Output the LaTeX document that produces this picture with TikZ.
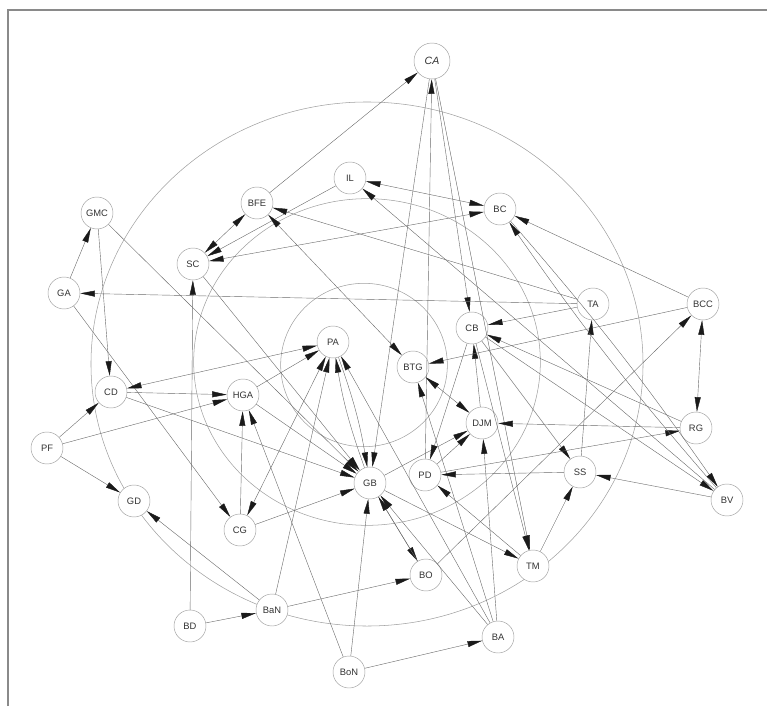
\documentclass[tikz,border=0pt]{standalone}
\usepackage{fontspec}
\setmainfont{Liberation Sans}
\usetikzlibrary{arrows.meta}
\definecolor{mapLine}{HTML}{6A6A6A}
\definecolor{mapRing}{HTML}{A0A0A0}
\definecolor{mapFrame}{HTML}{8A8A8A}
\definecolor{mapTip}{HTML}{1A1A1A}

\begin{document}
\begin{tikzpicture}[
  x=0.03cm, y=-0.03cm,
  font=\fontsize{8}{9}\selectfont,
  concept/.style={draw=mapRing, circle, fill=white, minimum size=0.96cm,
                  inner sep=0pt, text=black!80},
  link/.style={draw=mapLine, line width=0.35pt,
               -{Triangle[length=4.4mm,width=1.8mm,color=mapTip]}},
  twoway/.style={draw=mapLine, line width=0.35pt,
               {Triangle[length=4.4mm,width=1.8mm,color=mapTip]}-{Triangle[length=4.4mm,width=1.8mm,color=mapTip]}},
  ring/.style={draw=mapRing, line width=0.45pt}
]
\useasboundingbox (0,0) rectangle (767,706);
\draw[mapFrame, line width=1.3pt] (8,706) -- (8,10) -- (767,10);

% level rings
\draw[ring] (367,364) ellipse [x radius=8.28cm, y radius=7.86cm];
\draw[ring] (367,362) ellipse [x radius=5.2cm, y radius=4.9cm];
\draw[ring] (364,365) ellipse [x radius=2.5cm, y radius=2.45cm];

\node[concept, minimum size=1.08cm, font=\fontsize{9}{10}\selectfont\itshape] (CA) at (432,61) {CA};
\node[concept] (IL)  at (350,178) {IL};
\node[concept] (BFE) at (257,203) {BFE};
\node[concept] (BC)  at (500,209) {BC};
\node[concept] (GMC) at (97,213)  {GMC};
\node[concept] (SC)  at (193,264) {SC};
\node[concept] (GA)  at (64,293)  {GA};
\node[concept] (TA)  at (593,304) {TA};
\node[concept] (BCC) at (703,304) {BCC};
\node[concept] (CB)  at (472,328) {CB};
\node[concept] (PA)  at (333,342) {PA};
\node[concept] (BTG) at (413,367) {BTG};
\node[concept] (CD)  at (111,392) {CD};
\node[concept] (HGA) at (243,395) {HGA};
\node[concept] (DJM) at (482,423) {DJM};
\node[concept] (RG)  at (696,428) {RG};
\node[concept] (PF)  at (47,448)  {PF};
\node[concept] (PD)  at (425,475) {PD};
\node[concept] (SS)  at (580,472) {SS};
\node[concept] (GB)  at (370,483) {GB};
\node[concept] (GD)  at (134,501) {GD};
\node[concept] (BV)  at (727,500) {BV};
\node[concept] (CG)  at (240,530) {CG};
\node[concept] (TM)  at (533,566) {TM};
\node[concept] (BO)  at (426,575) {BO};
\node[concept] (BaN) at (272,610) {BaN};
\node[concept] (BD)  at (190,626) {BD};
\node[concept] (BA)  at (498,637) {BA};
\node[concept] (BoN) at (349,672) {BoN};

\foreach \a/\b in {BFE/CA, CA/GB, CA/CB, CA/TM, PD/CA, BCC/BC, IL/SC, TA/BFE,
    GA/GMC, GMC/CD, GMC/GB, TA/GA, GA/CG, BD/SC, SC/GB, HGA/PA, BaN/PA,
    BA/PA, CD/HGA, PF/HGA, CG/HGA, BoN/HGA, HGA/GB, PF/CD, CD/GB, PF/GD,
    BaN/GD, CG/GB, BoN/GB, BA/GB, GB/TM, TM/PD, GB/BO, BaN/BO, BO/BCC,
    BA/BTG, BA/DJM, BoN/BA, BD/BaN, GB/DJM, PD/DJM, RG/DJM, DJM/CB,
    BCC/BTG, TA/CB, SS/TA, CB/SS, TM/SS, BV/SS, SS/PD, PD/RG, CB/PD,
    CB/TM, CB/BV, BV/IL, RG/CB, BO/GB}
  \draw[link] (\a) -- (\b);

\foreach \a/\b in {IL/BC, BFE/SC, SC/BC, BFE/BTG, CD/PA, CG/PA, BTG/DJM, BCC/RG}
  \draw[twoway] (\a) -- (\b);

\draw[link] (PA) to[bend left=5] (GB);
\draw[link] (GB) to[bend left=5] (PA);
\draw[link] (BV) to[bend left=3] (BC);
\draw[link] (BC) to[bend left=3] (BV);

\end{tikzpicture}
\end{document}
